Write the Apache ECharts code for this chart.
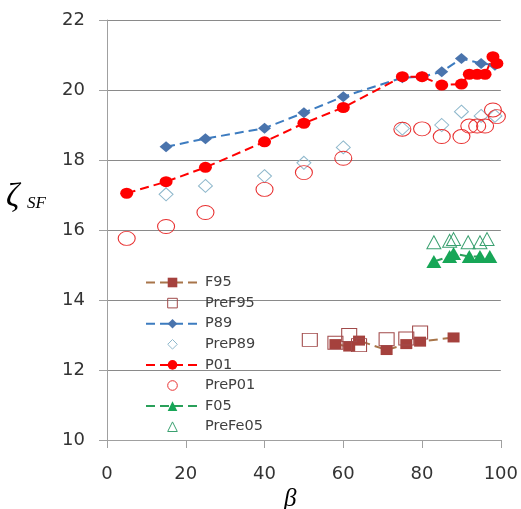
<!DOCTYPE html>
<html>
<head>
<meta charset="utf-8">
<script src="https://cdn.jsdelivr.net/npm/echarts@6/dist/echarts.min.js"></script>
<style>
html, body { margin: 0; padding: 0; background: #fff; }
#chart { width: 521px; height: 509px; }
</style>
</head>
<body>
<div id="chart"></div>
<script>
// beta (x) and zeta_SF (y)
const f95X = [58, 61.5, 64, 71, 76, 79.5, 88]
const f95Y = [12.74, 12.67, 12.84, 12.57, 12.74, 12.81, 12.93]
const preF95X = [51.5, 58, 61.5, 64, 71, 76, 79.5]
const preF95Y = [12.86, 12.78, 13.0, 12.71, 12.88, 12.9, 13.07]

const p89X = [15, 25, 40, 50, 60, 75, 80, 85, 90, 95, 98.5]
const p89Y = [18.38, 18.61, 18.91, 19.35, 19.81, 20.35, 20.38, 20.52, 20.9, 20.76, 20.71]
const preP89X = [15, 25, 40, 50, 60, 75, 85, 90, 95, 98.5]
const preP89Y = [17.02, 17.26, 17.54, 17.92, 18.36, 18.9, 19.0, 19.38, 19.26, 19.26]

const p01X = [5, 15, 25, 40, 50, 60, 75, 80, 85, 90, 92, 94, 96, 98, 99]
const p01Y = [17.05, 17.38, 17.79, 18.52, 19.05, 19.5, 20.38, 20.38, 20.14, 20.17, 20.45, 20.45, 20.45, 20.95, 20.76]
const preP01X = [5, 15, 25, 40, 50, 60, 75, 80, 85, 90, 92, 94, 96, 98, 99]
const preP01Y = [15.76, 16.1, 16.5, 17.16, 17.64, 18.05, 18.88, 18.89, 18.67, 18.67, 18.97, 18.97, 18.97, 19.43, 19.24]

const f05X = [83, 87, 88, 92, 94.7, 97.2]
const f05Y = [15.1, 15.24, 15.33, 15.24, 15.24, 15.24]
const preFe05X = [83, 87, 88, 91.7, 94.7, 96.5]
const preFe05Y = [15.65, 15.69, 15.74, 15.65, 15.65, 15.74]

const xRange = [0, 100, 20]
const yRange = [10, 22, 2]

function pairs (xs, ys) {
  return xs.map((x, i) => [x, ys[i]])
}

// series with a dashed line through filled marks
function dashed (name, xs, ys, symbol, size, markColor, lineColor) {
  return {
    name: name,
    type: 'line',
    data: pairs(xs, ys),
    symbol: symbol,
    symbolSize: size,
    itemStyle: { color: markColor },
    lineStyle: { color: lineColor, width: 2, type: [9, 5] }
  }
}

// predicted values: hollow marks only
function hollow (name, xs, ys, symbol, size, color) {
  return {
    name: name,
    type: 'line',
    data: pairs(xs, ys),
    symbol: symbol,
    symbolSize: size,
    itemStyle: { color: 'rgba(255,255,255,0)', borderColor: color, borderWidth: 1 },
    lineStyle: { width: 0 }
  }
}

const chart = echarts.init(document.getElementById('chart'))
chart.setOption({
  animation: false,
  grid: { left: 107, right: 20, top: 20, bottom: 69 },
  xAxis: {
    type: 'value',
    min: xRange[0],
    max: xRange[1],
    interval: xRange[2],
    axisLine: { lineStyle: { color: '#a0a0a0' } },
    axisTick: { length: 8, lineStyle: { color: '#a0a0a0' } },
    axisLabel: { margin: 25, color: '#333', fontFamily: 'DejaVu Sans', fontSize: 18 },
    splitLine: { show: false }
  },
  yAxis: {
    type: 'value',
    min: yRange[0],
    max: yRange[1],
    interval: yRange[2],
    axisLine: { show: true, lineStyle: { color: '#a0a0a0' } },
    axisTick: { show: true, length: 8, lineStyle: { color: '#a0a0a0' } },
    axisLabel: { margin: 22, color: '#333', fontFamily: 'DejaVu Sans', fontSize: 18 },
    splitLine: { lineStyle: { color: '#8a8a8a' } }
  },
  legend: {
    orient: 'vertical',
    left: 140,
    top: 270,
    itemWidth: 53,
    itemHeight: 12,
    itemGap: 5.6,
    selectedMode: false,
    itemStyle: { borderWidth: 1 },
    textStyle: { color: '#404040', fontFamily: 'DejaVu Sans', fontSize: 14.5, padding: [0, 0, 0, 1] },
    data: ['F95', 'PreF95', 'P89', 'PreP89', 'P01', 'PreP01', 'F05', 'PreFe05']
  },
  graphic: [
    { type: 'text', left: 6, top: 181, style: { text: 'ζ', font: 'italic 33px "Liberation Serif"', fill: '#000' } },
    { type: 'text', left: 27, top: 195, style: { text: 'SF', font: 'italic 17px "Liberation Serif"', fill: '#000' } },
    { type: 'text', left: 284, top: 487, style: { text: 'β', font: 'italic 25px "Liberation Serif"', fill: '#000' } }
  ],
  series: [
    dashed('F95', f95X, f95Y, 'rect', [12, 10], '#a5413d', '#a8754a'),
    hollow('PreF95', preF95X, preF95Y, 'rect', [15, 13], '#a14a4a'),
    dashed('P89', p89X, p89Y, 'diamond', [13, 11], '#4a74ad', '#3d7cc0'),
    hollow('PreP89', preP89X, preP89Y, 'diamond', [14, 13], '#8fb8cc'),
    dashed('P01', p01X, p01Y, 'circle', [13, 11], '#ff0000', '#ff0000'),
    hollow('PreP01', preP01X, preP01Y, 'circle', [17, 14], '#e83030'),
    dashed('F05', f05X, f05Y, 'triangle', [15, 13], '#17a657', '#2aa05a'),
    hollow('PreFe05', preFe05X, preFe05Y, 'triangle', [14, 13], '#3aa070')
  ]
})
</script>
</body>
</html>
